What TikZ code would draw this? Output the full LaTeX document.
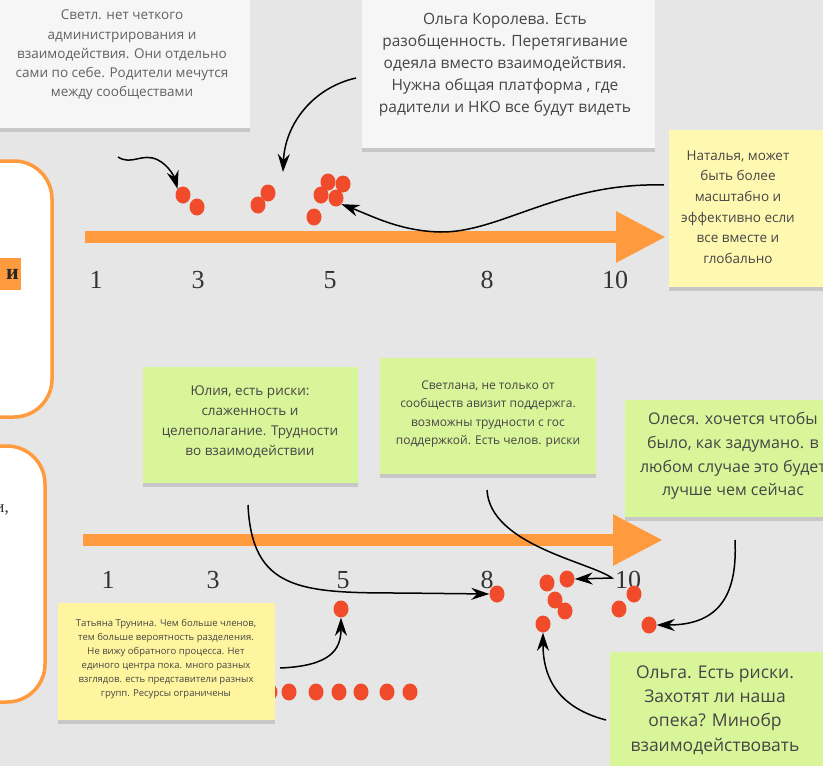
\documentclass[tikz,border=0pt]{standalone}
\usepackage{fontspec}
\setmainfont{Open Sans}
\newfontfamily\numfont{Liberation Serif}
\usetikzlibrary{arrows.meta,shapes.geometric,shadows}
\definecolor{bg}{HTML}{E6E6E6}
\definecolor{org}{HTML}{FF9A3E}
\definecolor{dotred}{HTML}{F04B2B}
\definecolor{cardgray}{HTML}{F6F6F6}
\definecolor{cardyel}{HTML}{FFF8B0}
\definecolor{cardyeltwo}{HTML}{FFF59E}
\definecolor{cardgrn}{HTML}{D9F59A}
\definecolor{txt}{HTML}{454545}
\definecolor{numc}{HTML}{333333}
\begin{document}
\begin{tikzpicture}[x=1pt,y=-1pt,
  card/.style={draw=none, inner sep=0pt, drop shadow={shadow xshift=0pt, shadow yshift=-4pt, opacity=0.3}},
  ctext/.style={align=center, text=txt, inner sep=0pt},
  obox/.style={draw=org, line width=3.5pt, fill=white, rounded corners=38pt, inner sep=0pt},
  orgarrow/.style={draw=org, line width=12pt, -{Triangle[length=50pt,width=48pt]}},
  dot/.style={ellipse, fill=dotred, minimum width=15pt, minimum height=17pt, inner sep=0pt},
  num/.style={font=\numfont\fontsize{26}{26}\selectfont, text=numc, inner sep=0pt},
  conn/.style={-{Stealth[length=18pt,width=12pt]}, line width=1.5pt, black}
]
\useasboundingbox (0,0) rectangle (823,766);
\clip (0,0) rectangle (823,766);
\fill[bg] (0,0) rectangle (823,766);

% left orange boxes
\node[obox, minimum width=110pt, minimum height=256pt] (box1) at (-3,289) {};
\node[fill=org, text=black!85, font=\numfont\bfseries\fontsize{22}{22}\selectfont, anchor=east, inner sep=2pt, text width=40pt, align=right, minimum height=32pt] (lab1) at (21,274) {и};
\node[obox, minimum width=110pt, minimum height=256pt] (box2) at (-10,574) {};
\node[anchor=east, font=\numfont\fontsize{17}{17}\selectfont, text=numc, inner sep=0pt] (lab2) at (9,510) {и,};

% orange axes
\coordinate (oa1) at (85,237);
\coordinate (ob1) at (666,237);
\draw[orgarrow] (oa1) -- (ob1);
\coordinate (oa2) at (83,540);
\coordinate (ob2) at (663,540);
\draw[orgarrow] (oa2) -- (ob2);

% scale numbers
\node[num] (n1) at (96,280) {1};
\node[num] (n3) at (198,280) {3};
\node[num] (n5) at (330,280) {5};
\node[num] (n8) at (487,280) {8};
\node[num] (n10) at (615,280) {10};
\node[num] (m1) at (108,580) {1};
\node[num] (m3) at (213,580) {3};
\node[num] (m5) at (343,580) {5};
\node[num] (m8) at (487,580) {8};
\node[num] (m10) at (628,580) {10};

% top dots
\node[dot] (a1) at (183,195) {};
\node[dot] (a2) at (197,207) {};
\node[dot] (a3) at (258,205) {};
\node[dot] (a4) at (268,193) {};
\node[dot] (a5) at (328,182) {};
\node[dot] (a6) at (343,184) {};
\node[dot] (a7) at (321,195) {};
\node[dot] (a8) at (336,198) {};
\node[dot] (a9) at (314,217) {};

% bottom dots
\node[dot] (b1) at (497,594) {};
\node[dot] (b2) at (547,583) {};
\node[dot] (b3) at (567,579) {};
\node[dot] (b4) at (555,600) {};
\node[dot] (b5) at (565,611) {};
\node[dot] (b6) at (543,624) {};
\node[dot] (b7) at (634,594) {};
\node[dot] (b8) at (619,609) {};
\node[dot] (b9) at (649,625) {};
\node[dot] (b10) at (341,609) {};
\node[dot] (r0) at (270,692) {};
\node[dot] (r1) at (289,692) {};
\node[dot] (r2) at (316,692) {};
\node[dot] (r3) at (339,692) {};
\node[dot] (r4) at (361,692) {};
\node[dot] (r5) at (387,692) {};
\node[dot] (r6) at (410,692) {};

% cards
\node[card, fill=cardgray, minimum width=255pt, minimum height=138pt] (c1) at (122.5,59) {};
\node[card, fill=cardgray, minimum width=293pt, minimum height=158pt] (c2) at (508.5,69) {};
\node[card, fill=cardyel, minimum width=161pt, minimum height=157pt] (c3) at (749.5,208.5) {};
\node[card, fill=cardgrn, minimum width=215pt, minimum height=116pt] (c4) at (250.5,425) {};
\node[card, fill=cardgrn, minimum width=216pt, minimum height=116pt] (c5) at (488,416) {};
\node[card, fill=cardgrn, minimum width=205pt, minimum height=117pt] (c6) at (727.5,458.5) {};
\node[card, fill=cardyeltwo, minimum width=217pt, minimum height=117pt] (c7) at (166.5,661.5) {};
\node[card, fill=cardgrn, minimum width=220pt, minimum height=123pt] (c8) at (720,713.5) {};

% card texts
\node[ctext, font=\fontsize{13.5}{19.2}\selectfont, text=txt!85] (t1) at (122,55) {Светл. нет четкого\\администрирования и\\взаимодействия. Они отдельно\\сами по себе. Родители мечутся\\между сообществами};
\node[ctext, font=\fontsize{15.5}{22}\selectfont] (t2) at (505,65) {Ольга Королева. Есть\\разобщенность. Перетягивание\\одеяла вместо взаимодействия.\\Нужна общая платформа , где\\радители и НКО все будут видеть};
\node[ctext, font=\fontsize{13.5}{20.6}\selectfont] (t3) at (738,207) {Наталья, может\\быть более\\масштабно и\\эффективно если\\все вместе и\\глобально};
\node[ctext, font=\fontsize{13.5}{20}\selectfont] (t4) at (250,422) {Юлия, есть риски:\\слаженность и\\целеполагание. Трудности\\во взаимодействии};
\node[ctext, font=\fontsize{12}{18.3}\selectfont] (t5) at (488,414) {Светлана, не только от\\сообществ авизит поддержга.\\возможны трудности с гос\\поддержкой. Есть челов. риски};
\node[ctext, font=\fontsize{16}{23.7}\selectfont] (t6) at (733,456) {Олеся. хочется чтобы\\было, как задумано. в\\любом случае это будет\\лучше чем сейчас};
\node[ctext, font=\fontsize{9.5}{14}\selectfont] (t7) at (166,659) {Татьяна Трунина. Чем больше членов,\\тем больше вероятность разделения.\\Не вижу обратного процесса. Нет\\единого центра пока. много разных\\взглядов. есть представители разных\\групп. Ресурсы ограничены};
\node[ctext, font=\fontsize{17.5}{24.3}\selectfont] (t8) at (715,710) {Ольга. Есть риски.\\Захотят ли наша\\опека? Минобр\\взаимодействовать};

% connectors
\coordinate (s1) at (118,157);
\draw[conn] (s1) .. controls (132,166) and (142,152) .. (158,160) .. controls (168,165) and (174,176) .. (a1.north west);
\coordinate (s2) at (356,78);
\coordinate (e2) at (283,172);
\draw[conn] (s2) .. controls (312,88) and (285,125) .. (e2);
\coordinate (s3) at (664,185);
\draw[conn] (s3) .. controls (560,182) and (500,233) .. (440,232) .. controls (400,231) and (372,216) .. (a8.south east);
\coordinate (s4) at (248,505);
\draw[conn] (s4) .. controls (252,590) and (300,593) .. (400,593) -- (b1.west);
\coordinate (s5) at (487,490);
\draw[conn] (s5) .. controls (490,545) and (590,562) .. (612,578) -- (b3.east);
\coordinate (s6) at (735,540);
\draw[conn] (s6) .. controls (738,600) and (715,625) .. (b9.east);
\coordinate (s7) at (606,720);
\draw[conn] (s7) .. controls (560,708) and (543,680) .. (b6.south);
\coordinate (s8) at (280,668);
\draw[conn] (s8) .. controls (330,666) and (341,650) .. (b10.south);
\end{tikzpicture}
\end{document}
